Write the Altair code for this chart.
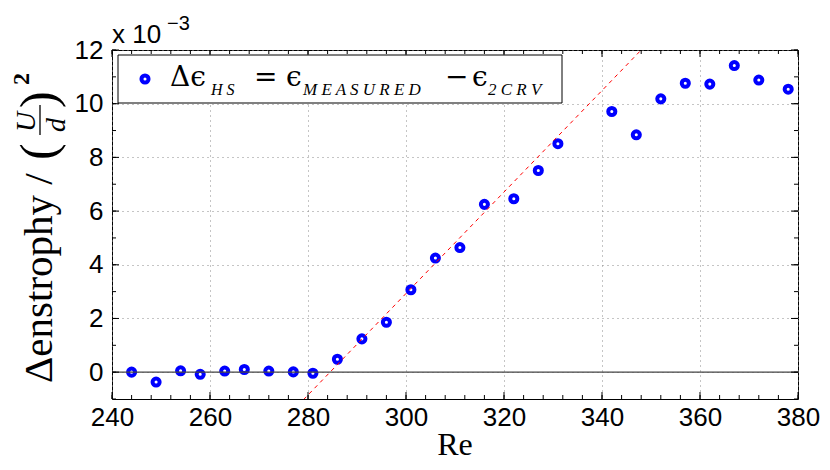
import altair as alt
import pandas as pd

# ---- data ----
re_vals = [244, 249, 254, 258, 263, 267, 272, 277, 281, 286, 291, 296, 301, 306,
           311, 316, 322, 327, 331, 342, 347, 352, 357, 362, 367, 372, 378]
d_enstrophy = [0.0, -0.37, 0.05, -0.08, 0.04, 0.10, 0.04, 0.01, -0.04, 0.48, 1.24,
               1.86, 3.07, 4.25, 4.64, 6.25, 6.46, 7.51, 8.51, 9.71, 8.84, 10.18,
               10.76, 10.73, 11.42, 10.88, 10.54]

# linear fit (red dashed line): y = slope * (Re - Re0)
fit_slope = 0.189
fit_re0 = 284.5
fit_re_ends = [270, 360]

x_major = [240, 260, 280, 300, 320, 340, 360, 380]
x_minor = [240, 244, 248, 252, 256, 260, 264, 268, 272, 276, 280, 284, 288, 292,
           296, 300, 304, 308, 312, 316, 320, 324, 328, 332, 336, 340, 344, 348,
           352, 356, 360, 364, 368, 372, 376, 380]
y_major = [0, 2, 4, 6, 8, 10, 12]
y_minor = [-1, 0, 1, 2, 3, 4, 5, 6, 7, 8, 9, 10, 11, 12]

legend_parts = ["Δϵ", "H S", "=", "ϵ", "M E A S U R E D", "−", "ϵ", "2 C R V"]
ytitle_parts = ["Δenstrophy /", "(", "U", "d", ")", "2"]
exp_parts = ["x 10", "−3"]
xtitle = "Re"

W, H = 686, 349
SERIF = "Liberation Serif"
MATH = "DejaVu Serif"
SANS = "Liberation Sans"
BLUE = "#0000ff"

xs = alt.Scale(domain=[240, 380], nice=False, zero=False)
ys = alt.Scale(domain=[-1, 12], nice=False, zero=False)
X_AX = alt.Axis(values=x_major, labelPadding=5, labelFlush=False)
Y_AX = alt.Axis(values=y_major, labelPadding=9, labelFlush=False)


def X(field):
    return alt.X(field, scale=xs, axis=X_AX, title=None)


def Y(field):
    return alt.Y(field, scale=ys, axis=Y_AX, title=None)


df = pd.DataFrame({"Re": re_vals, "dE": d_enstrophy})
fit_df = pd.DataFrame({"Re": fit_re_ends,
                       "dE": [fit_slope * (r - fit_re0) for r in fit_re_ends]})

points = alt.Chart(df).mark_point(
    shape="circle", filled=False, size=50, strokeWidth=4, color=BLUE, opacity=1
).encode(x=X("Re:Q"), y=Y("dE:Q"))

zero = alt.Chart(pd.DataFrame({"dE": [0]})).mark_rule(color="#444", strokeWidth=1.2).encode(
    y=Y("dE:Q")
)

fit_line = alt.Chart(fit_df).mark_line(
    color="#ff0000", strokeDash=[4, 4], strokeWidth=1, clip=True
).encode(x=X("Re:Q"), y=Y("dE:Q"))


def xticks(vals, length):
    d = pd.DataFrame({"Re": vals})
    bottom = alt.Chart(d).mark_rule(color="black", strokeWidth=1).encode(
        x=X("Re:Q"), y=alt.value(H), y2=alt.value(H - length))
    top = alt.Chart(d).mark_rule(color="black", strokeWidth=1).encode(
        x=X("Re:Q"), y=alt.value(0), y2=alt.value(length))
    return [bottom, top]


def yticks(vals, length):
    d = pd.DataFrame({"dE": vals})
    left = alt.Chart(d).mark_rule(color="black", strokeWidth=1).encode(
        y=Y("dE:Q"), x=alt.value(0), x2=alt.value(length))
    right = alt.Chart(d).mark_rule(color="black", strokeWidth=1).encode(
        y=Y("dE:Q"), x=alt.value(W), x2=alt.value(W - length))
    return [left, right]


def label(txt, x, y, size, font=SERIF, style="normal", weight="normal", angle=0,
          align="left"):
    return alt.Chart(pd.DataFrame({"t": [txt]})).mark_text(
        align=align, baseline="alphabetic", font=font, fontSize=size,
        fontStyle=style, fontWeight=weight, angle=angle, color="black"
    ).encode(x=alt.value(x), y=alt.value(y), text="t:N")


one = pd.DataFrame({"k": [0]})
legend_box = alt.Chart(one).mark_rect(fill="white", stroke="black", strokeWidth=1).encode(
    x=alt.value(6), x2=alt.value(450), y=alt.value(5), y2=alt.value(53))
legend_marker = alt.Chart(one).mark_point(
    shape="circle", filled=False, size=50, strokeWidth=4, color=BLUE, opacity=1
).encode(x=alt.value(33), y=alt.value(29))

legend_texts = [
    label(legend_parts[0], 58, 36, 28, font=MATH),
    label(legend_parts[1], 99, 45, 16, style="italic"),
    label(legend_parts[2], 142, 36, 28, font=MATH),
    label(legend_parts[3], 174, 36, 28, font=MATH),
    label(legend_parts[4], 191, 45, 17, style="italic"),
    label(legend_parts[5], 333, 36, 28, font=MATH),
    label(legend_parts[6], 360, 36, 28, font=MATH),
    label(legend_parts[7], 376, 45, 17, style="italic"),
]

ytitle = [
    label(ytitle_parts[0], -60, 333, 41, angle=270),
    label(ytitle_parts[1], -57, 110, 50, angle=270),
    label(ytitle_parts[2], -77, 82, 28, style="italic", angle=270),
    label(ytitle_parts[3], -47, 82, 28, style="italic", angle=270),
    label(ytitle_parts[4], -57, 58, 50, angle=270),
    label(ytitle_parts[5], -83, 35, 24, weight="bold", angle=270),
]
frac_bar = alt.Chart(one).mark_rule(color="black", strokeWidth=1.3).encode(
    x=alt.value(-72), y=alt.value(55), y2=alt.value(85))

xtitle_mark = label(xtitle, W / 2, 405, 32, align="center")

exponent = [
    label(exp_parts[0], 0, -7, 26, font=SANS),
    label(exp_parts[1], 55, -20, 20, font=SANS),
]

layers = ([points, zero, fit_line] + xticks(x_major, 7) + xticks(x_minor, 4)
          + yticks(y_major, 7) + yticks(y_minor, 4)
          + [legend_box, legend_marker] + legend_texts + ytitle
          + [frac_bar, xtitle_mark] + exponent)

chart = alt.layer(*layers).properties(
    width=W, height=H,
    autosize=alt.AutoSizeParams(type="none"),
    padding={"left": 104, "top": 42, "right": 24, "bottom": 63},
    background="white",
).configure_view(
    stroke="black", strokeWidth=1, fill="white"
).configure_axis(
    labelFont=SANS, labelFontSize=26, labelColor="black",
    grid=True, gridColor="#8a8a8a", gridDash=[1, 4], gridWidth=1,
    domain=False, ticks=False,
)

chart.save("out.html", embed_options={"renderer": "svg", "actions": False})
